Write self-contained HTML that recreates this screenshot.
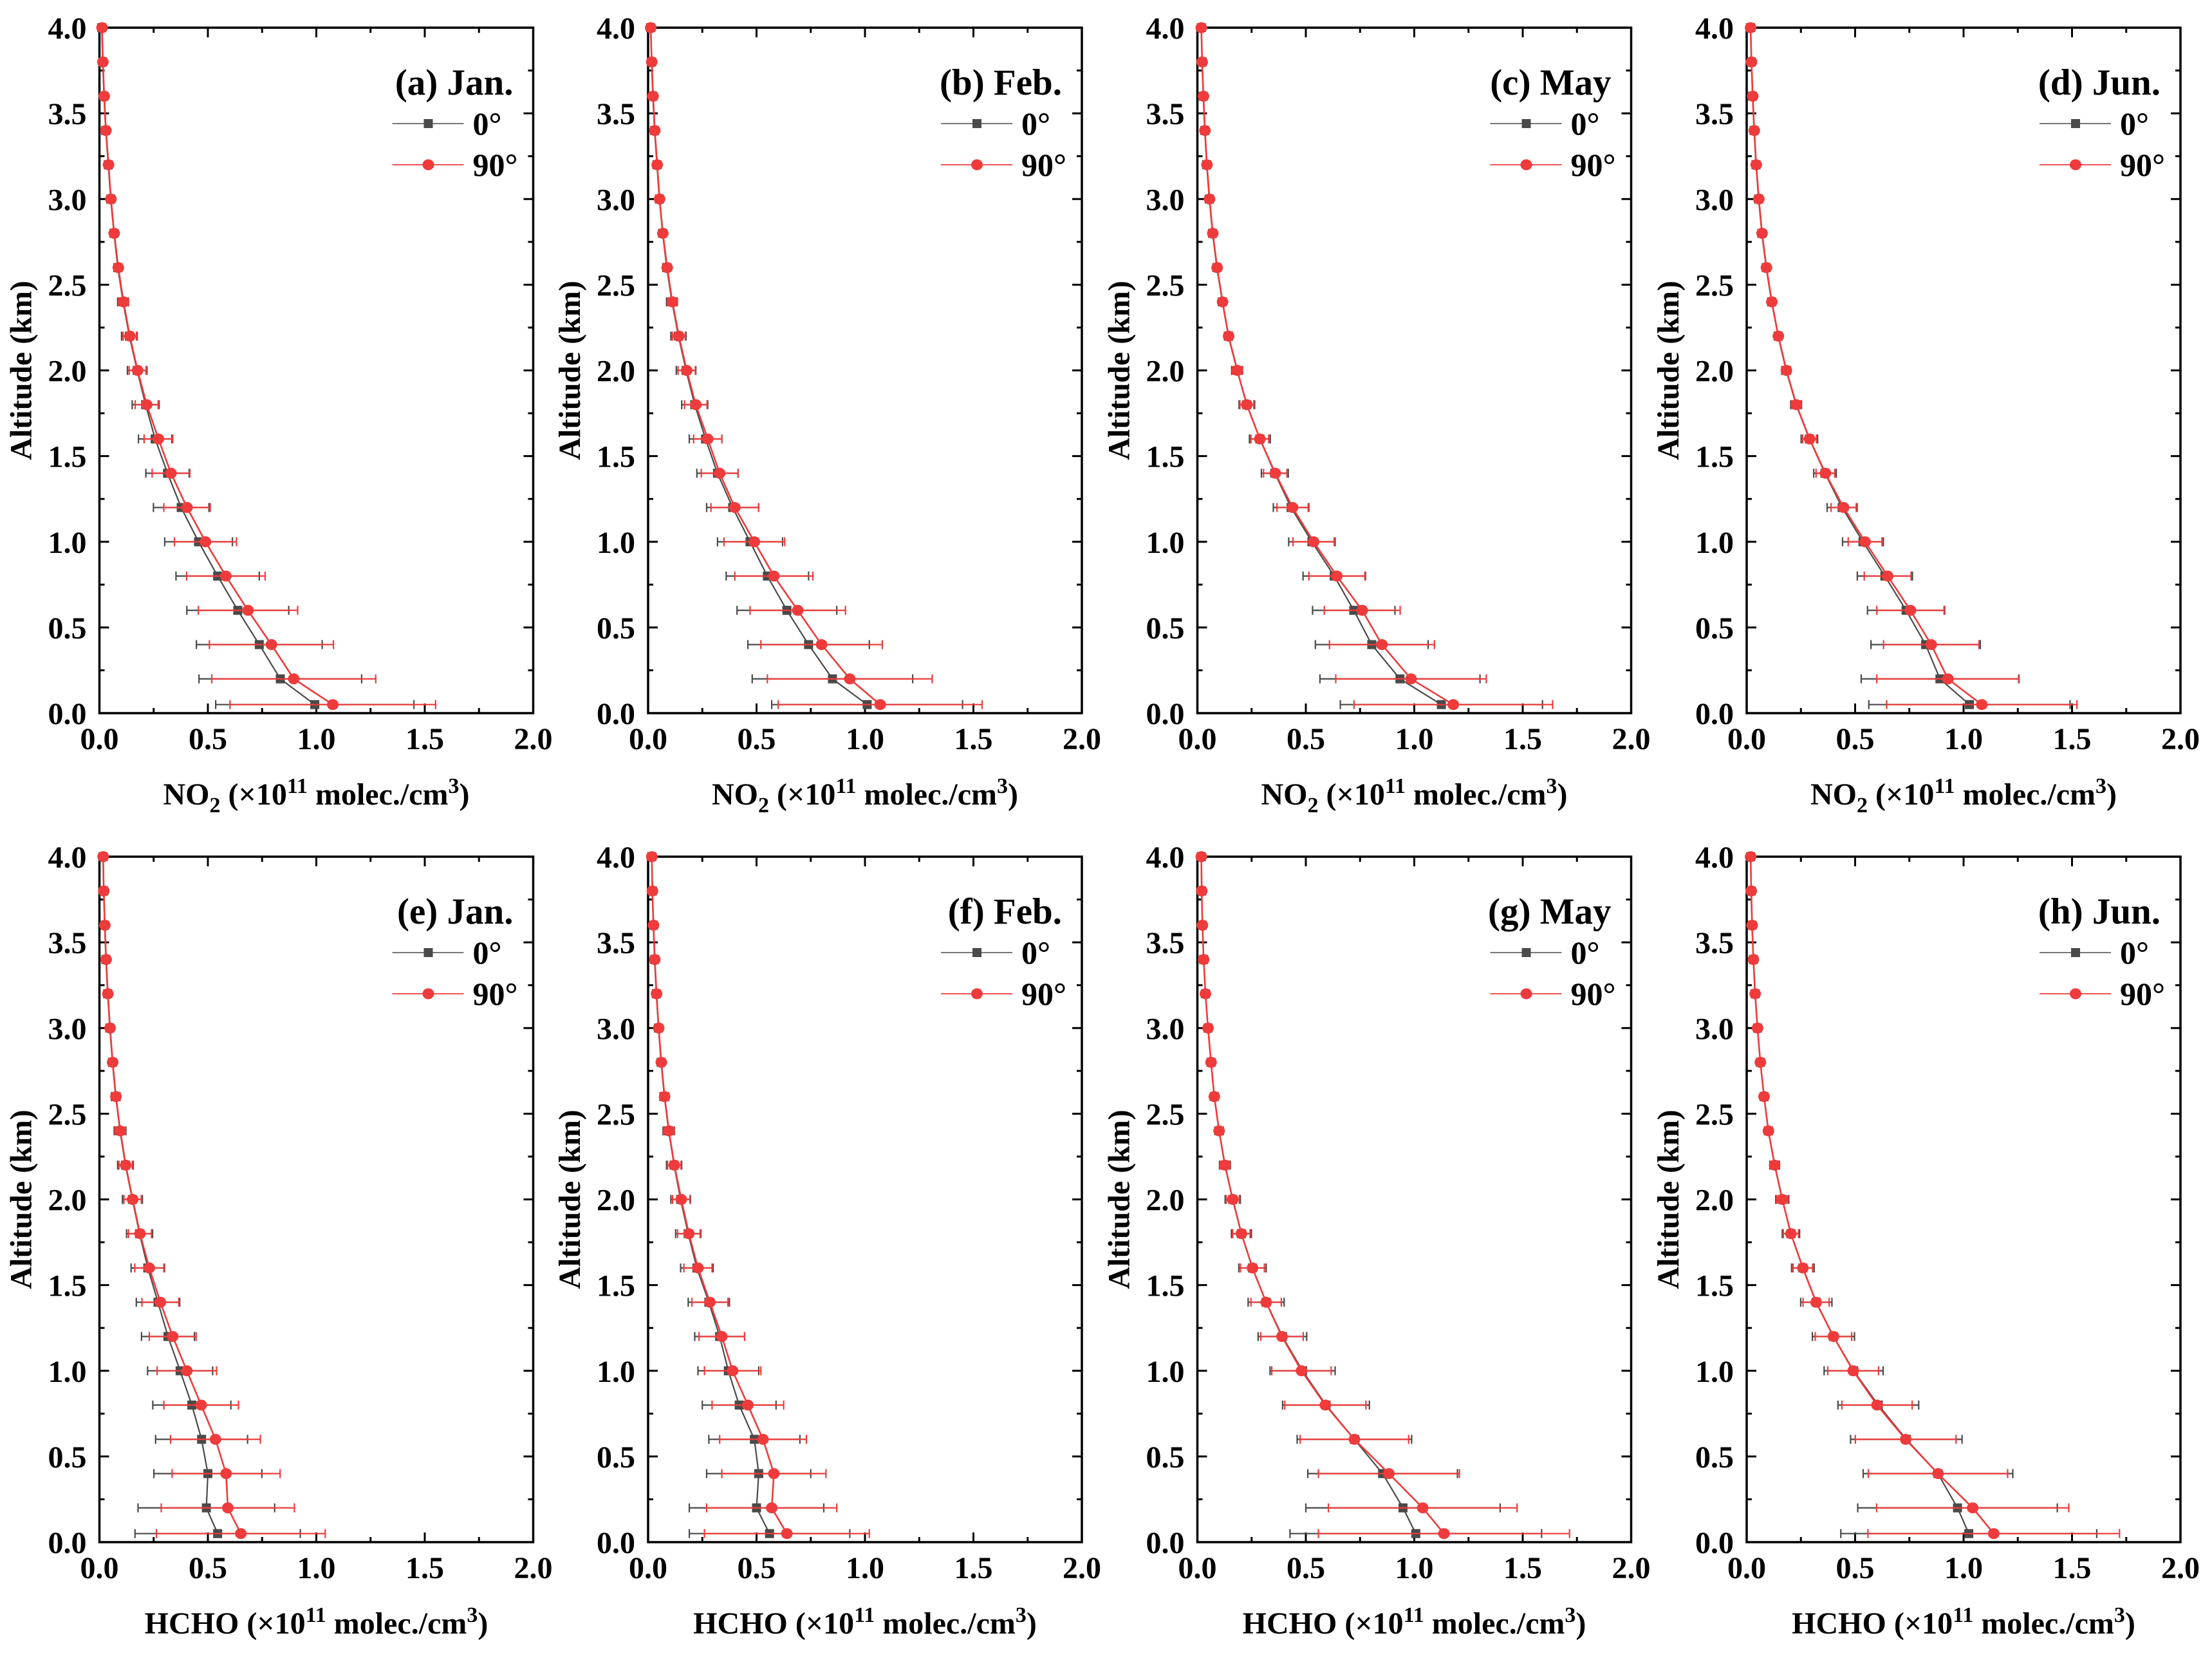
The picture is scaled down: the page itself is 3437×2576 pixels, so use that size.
<!DOCTYPE html>
<html><head><meta charset="utf-8"><style>
html,body{margin:0;padding:0;background:#fff;}
svg, svg text, svg tspan{font-family:"Liberation Serif","Times New Roman",serif !important;font-weight:bold;}
</style></head><body>
<svg id="fig" xmlns="http://www.w3.org/2000/svg" width="3437" height="2571" viewBox="0 0 3437 2571" font-family="Liberation Serif, serif" font-weight="bold"></svg>
<script>
const altitudes=[0.05,0.2,0.4,0.6,0.8,1.0,1.2,1.4,1.6,1.8,2.0,2.2,2.4,2.6,2.8,3.0,3.2,3.4,3.6,3.8,4.0];
const xTicks=[0,0.5,1.0,1.5,2.0];
const yTicks=[0,0.5,1.0,1.5,2.0,2.5,3.0,3.5,4.0];
const panelTitles=["(a) Jan.","(b) Feb.","(c) May","(d) Jun.","(e) Jan.","(f) Feb.","(g) May","(h) Jun."];
const seriesNames=["0°","90°"];

const no2JanZero=[0.993,0.834,0.737,0.638,0.545,0.457,0.377,0.314,0.257,0.213,0.174,0.138,0.109,0.085,0.067,0.052,0.041,0.029,0.021,0.015,0.011];
const no2JanZeroErr=[0.457,0.375,0.29,0.235,0.192,0.156,0.128,0.10,0.077,0.062,0.045,0.036,0.025,0.018,0.014,0.011,0.009,0.007,0.005,0.004,0.003];
const no2JanNinety=[1.076,0.896,0.793,0.685,0.583,0.489,0.404,0.330,0.272,0.218,0.176,0.140,0.111,0.087,0.068,0.053,0.042,0.030,0.022,0.016,0.012];
const no2JanNinetyErr=[0.474,0.378,0.286,0.229,0.181,0.143,0.107,0.087,0.066,0.053,0.039,0.031,0.022,0.016,0.012,0.009,0.008,0.006,0.004,0.003,0.003];

const no2FebZero=[1.01,0.85,0.74,0.64,0.55,0.47,0.39,0.32,0.265,0.215,0.175,0.14,0.11,0.086,0.067,0.052,0.041,0.03,0.022,0.016,0.012];
const no2FebZeroErr=[0.44,0.37,0.28,0.23,0.19,0.15,0.12,0.095,0.075,0.06,0.045,0.035,0.025,0.018,0.014,0.011,0.009,0.007,0.005,0.004,0.003];
const no2FebNinety=[1.07,0.93,0.80,0.69,0.58,0.49,0.40,0.33,0.275,0.22,0.178,0.142,0.112,0.088,0.068,0.053,0.042,0.031,0.023,0.017,0.012];
const no2FebNinetyErr=[0.47,0.38,0.28,0.22,0.18,0.14,0.11,0.085,0.065,0.052,0.04,0.03,0.022,0.016,0.012,0.009,0.008,0.006,0.004,0.003,0.003];

const no2MayZero=[1.125,0.934,0.804,0.721,0.631,0.528,0.432,0.357,0.288,0.228,0.183,0.143,0.115,0.09,0.07,0.055,0.043,0.034,0.027,0.022,0.018];
const no2MayZeroErr=[0.466,0.369,0.26,0.19,0.144,0.107,0.082,0.062,0.048,0.036,0.025,0.018,0.014,0.011,0.009,0.007,0.006,0.005,0.004,0.003,0.003];
const no2MayNinety=[1.18,0.985,0.851,0.76,0.643,0.536,0.439,0.359,0.288,0.228,0.184,0.144,0.116,0.091,0.071,0.056,0.044,0.035,0.028,0.022,0.018];
const no2MayNinetyErr=[0.458,0.347,0.242,0.175,0.129,0.095,0.072,0.054,0.041,0.032,0.022,0.016,0.012,0.01,0.008,0.006,0.005,0.004,0.003,0.003,0.002];

const no2JunZero=[1.027,0.891,0.825,0.735,0.637,0.536,0.44,0.361,0.289,0.228,0.182,0.145,0.115,0.09,0.07,0.055,0.043,0.034,0.027,0.022,0.018];
const no2JunZeroErr=[0.464,0.363,0.252,0.178,0.127,0.094,0.069,0.052,0.038,0.025,0.02,0.015,0.012,0.01,0.008,0.006,0.005,0.004,0.003,0.003,0.002];
const no2JunNinety=[1.084,0.928,0.851,0.755,0.65,0.546,0.447,0.363,0.29,0.229,0.183,0.146,0.116,0.091,0.071,0.056,0.044,0.035,0.028,0.022,0.018];
const no2JunNinetyErr=[0.439,0.328,0.22,0.155,0.108,0.078,0.058,0.043,0.032,0.022,0.017,0.013,0.01,0.008,0.007,0.005,0.004,0.004,0.003,0.002,0.002];

const hchoJanZero=[0.545,0.493,0.50,0.471,0.426,0.372,0.316,0.27,0.223,0.185,0.152,0.12,0.095,0.075,0.06,0.048,0.038,0.03,0.024,0.02,0.017];
const hchoJanZeroErr=[0.381,0.315,0.249,0.212,0.18,0.15,0.122,0.10,0.077,0.06,0.046,0.036,0.027,0.02,0.015,0.012,0.01,0.008,0.006,0.005,0.004];
const hchoJanNinety=[0.652,0.592,0.584,0.535,0.469,0.403,0.338,0.281,0.23,0.187,0.153,0.121,0.096,0.076,0.061,0.049,0.039,0.031,0.025,0.02,0.017];
const hchoJanNinetyErr=[0.389,0.307,0.249,0.207,0.172,0.137,0.108,0.085,0.067,0.053,0.04,0.031,0.024,0.018,0.013,0.01,0.008,0.007,0.005,0.004,0.003];

const hchoFebZero=[0.56,0.50,0.51,0.49,0.42,0.37,0.33,0.28,0.225,0.185,0.15,0.12,0.095,0.075,0.06,0.048,0.038,0.03,0.024,0.02,0.017];
const hchoFebZeroErr=[0.37,0.31,0.24,0.21,0.17,0.14,0.115,0.095,0.075,0.058,0.045,0.035,0.026,0.02,0.015,0.012,0.01,0.008,0.006,0.005,0.004];
const hchoFebNinety=[0.64,0.57,0.58,0.53,0.46,0.39,0.34,0.285,0.23,0.188,0.153,0.121,0.096,0.076,0.061,0.049,0.039,0.031,0.025,0.02,0.017];
const hchoFebNinetyErr=[0.38,0.30,0.24,0.20,0.165,0.13,0.105,0.083,0.065,0.052,0.04,0.031,0.024,0.018,0.013,0.01,0.008,0.007,0.005,0.004,0.003];

const hchoMayZero=[1.007,0.948,0.854,0.724,0.593,0.485,0.392,0.317,0.254,0.203,0.163,0.127,0.10,0.078,0.063,0.049,0.037,0.029,0.023,0.02,0.018];
const hchoMayZeroErr=[0.58,0.448,0.345,0.264,0.20,0.15,0.112,0.083,0.063,0.046,0.035,0.025,0.019,0.014,0.011,0.009,0.007,0.005,0.004,0.004,0.003];
const hchoMayNinety=[1.137,1.039,0.883,0.724,0.59,0.48,0.39,0.317,0.254,0.203,0.163,0.127,0.10,0.078,0.063,0.049,0.037,0.029,0.023,0.02,0.018];
const hchoMayNinetyErr=[0.579,0.435,0.325,0.25,0.187,0.137,0.098,0.07,0.055,0.04,0.03,0.022,0.016,0.012,0.01,0.008,0.006,0.005,0.004,0.003,0.003];

const hchoJunZero=[1.024,0.972,0.882,0.736,0.607,0.493,0.40,0.321,0.259,0.204,0.164,0.129,0.10,0.08,0.063,0.05,0.039,0.031,0.025,0.021,0.018];
const hchoJunZeroErr=[0.59,0.46,0.345,0.257,0.186,0.136,0.097,0.072,0.052,0.04,0.03,0.022,0.017,0.013,0.01,0.008,0.007,0.005,0.004,0.004,0.003];
const hchoJunNinety=[1.139,1.042,0.882,0.733,0.601,0.491,0.40,0.32,0.259,0.204,0.164,0.129,0.10,0.08,0.063,0.05,0.039,0.031,0.025,0.021,0.018];
const hchoJunNinetyErr=[0.58,0.443,0.321,0.232,0.162,0.117,0.084,0.06,0.045,0.035,0.026,0.019,0.015,0.011,0.009,0.007,0.006,0.005,0.004,0.003,0.003];

const panelZero=[no2JanZero,no2FebZero,no2MayZero,no2JunZero,hchoJanZero,hchoFebZero,hchoMayZero,hchoJunZero];
const panelZeroErr=[no2JanZeroErr,no2FebZeroErr,no2MayZeroErr,no2JunZeroErr,hchoJanZeroErr,hchoFebZeroErr,hchoMayZeroErr,hchoJunZeroErr];
const panelNinety=[no2JanNinety,no2FebNinety,no2MayNinety,no2JunNinety,hchoJanNinety,hchoFebNinety,hchoMayNinety,hchoJunNinety];
const panelNinetyErr=[no2JanNinetyErr,no2FebNinetyErr,no2MayNinetyErr,no2JunNinetyErr,hchoJanNinetyErr,hchoFebNinetyErr,hchoMayNinetyErr,hchoJunNinetyErr];

const NS="http://www.w3.org/2000/svg";
const svg=document.getElementById('fig');
const colLeft=[154.5,1007,1860.5,2714];
const rowTop=[43,1331];
const PW=674, PH=1065;
const GRAY="#4a4a4a", RED="#ef3b3b";
const FF="Liberation Serif, serif";

function mk(tag,attrs,parent){const e=document.createElementNS(NS,tag);for(const k in attrs)e.setAttribute(k,attrs[k]);if(tag==='text'){e.setAttribute('font-family',FF);e.setAttribute('font-weight','bold');}parent.appendChild(e);return e;}

for(let p=0;p<8;p++){
  const L=colLeft[p%4], T=rowTop[Math.floor(p/4)];
  const xs=v=>L+v/2*PW;
  const ys=v=>T+PH-v/4*PH;
  const g=mk('g',{},svg);
  
  
  const tg=mk('g',{stroke:'#000','stroke-width':3},g);
  
  
  for(let i=0;i<=8;i++){
    const v=i*0.25, maj=i%2===0, len=maj?15:8;
    const x=xs(v);
    mk('line',{x1:x,y1:T+PH,x2:x,y2:T+PH-len},tg);
    mk('line',{x1:x,y1:T,x2:x,y2:T+len},tg);
  }
  for(let i=0;i<=16;i++){
    const v=i*0.25, maj=i%2===0, len=maj?15:8;
    const y=ys(v);
    mk('line',{x1:L,y1:y,x2:L+len,y2:y},tg);
    mk('line',{x1:L+PW,y1:y,x2:L+PW-len,y2:y},tg);
  }
  const frame=mk('rect',{x:L,y:T,width:PW,height:PH,fill:'none',stroke:'#000','stroke-width':3.5},g);
  
  
  xTicks.forEach(v=>{
    const t=mk('text',{x:xs(v),y:T+PH+56,'font-size':48,'text-anchor':'middle'},g);
    
    
    t.textContent=v.toFixed(1);
  });
  yTicks.forEach(v=>{
    const t=mk('text',{x:L-20,y:ys(v)+17,'font-size':48,'text-anchor':'end'},g);
    
    
    t.textContent=v.toFixed(1);
  });
  const yt=mk('text',{x:0,y:0,'font-size':48,'text-anchor':'middle',transform:`translate(${L-106},${T+PH/2}) rotate(-90)`},g);
  
  
  yt.textContent='Altitude (km)';
  const xt=mk('text',{x:L+PW/2,y:T+PH+142,'font-size':48,'text-anchor':'middle'},g);
  
  
  xt.innerHTML=p<4
    ?'NO<tspan font-size="34" dy="12">2</tspan><tspan dy="-12"> (×10</tspan><tspan font-size="34" dy="-18">11</tspan><tspan dy="18"> molec./cm</tspan><tspan font-size="34" dy="-18">3</tspan><tspan dy="18">)</tspan>'
    :'HCHO (×10<tspan font-size="34" dy="-18">11</tspan><tspan dy="18"> molec./cm</tspan><tspan font-size="34" dy="-18">3</tspan><tspan dy="18">)</tspan>';
  const series=[[panelZero[p],panelZeroErr[p],GRAY,2.2,'square','series-0deg'],[panelNinety[p],panelNinetyErr[p],RED,2.6,'circle','series-90deg']];
  series.forEach(([vals,errs,col,lw,shape,nm])=>{
    const sg=mk('g',{},g);
    
    
    const eg=mk('g',{stroke:col,'stroke-width':2.2},sg);
    vals.forEach((v,i)=>{
      const y=ys(altitudes[i]), x1=xs(v-errs[i]), x2=xs(v+errs[i]);
      mk('line',{x1:x1,y1:y,x2:x2,y2:y},eg);
      mk('line',{x1:x1,y1:y-7,x2:x1,y2:y+7},eg);
      mk('line',{x1:x2,y1:y-7,x2:x2,y2:y+7},eg);
    });
    const pts=vals.map((v,i)=>xs(v).toFixed(1)+','+ys(altitudes[i]).toFixed(1)).join(' ');
    const pl=mk('polyline',{points:pts,fill:'none',stroke:col,'stroke-width':lw},sg);
    
    
    vals.forEach((v,i)=>{
      const x=xs(v), y=ys(altitudes[i]);
      let m;
      if(shape==='square') m=mk('rect',{x:x-7,y:y-7,width:14,height:14,fill:col},sg);
      else m=mk('ellipse',{cx:x,cy:y,rx:9,ry:8.5,fill:col},sg);
      
      
    });
  });
  const lg=mk('g',{},g);
  
  
  const lt=mk('text',{x:L+PW-31,y:T+104,'font-size':57,'text-anchor':'end'},lg);
  
  
  lt.textContent=panelTitles[p];
  [[GRAY,1.5,'square',149],[RED,1.8,'circle',213]].forEach(([col,lw,shape,dy],k)=>{
    const y=T+dy;
    const e=mk('g',{},lg);
    
    
    mk('line',{x1:L+455,y1:y,x2:L+566,y2:y,stroke:col,'stroke-width':lw},e);
    if(shape==='square') mk('rect',{x:L+504,y:y-7,width:14,height:14,fill:col},e);
    else mk('ellipse',{cx:L+511,cy:y,rx:9,ry:8.5,fill:col},e);
    const tx=mk('text',{x:L+580,y:y+17,'font-size':50},e);
    
    
    tx.textContent=seriesNames[k];
  });
}
</script>
</body></html>
